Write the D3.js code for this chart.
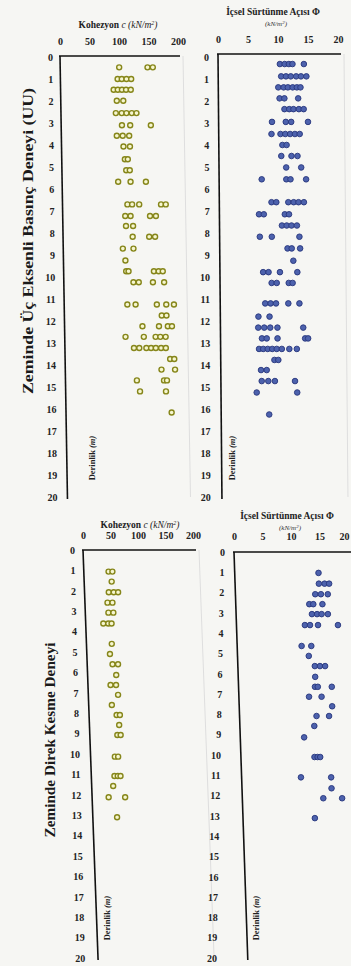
<!DOCTYPE html>
<html>
<head>
<meta charset="utf-8">
<script src="https://cdn.jsdelivr.net/npm/d3@7"></script>
<style>
body { margin: 0; background: #f6f6f3; }
svg { display: block; }
</style>
</head>
<body>
<div id="chart"></div>
<script>
var WIDTH = 351, HEIGHT = 966;
var FONT = "'Liberation Serif', 'Times New Roman', serif";

//tick labels
var cohesionTicks = [0, 50, 100, 150, 200];
var phiTicks = [0, 5, 10, 15, 20];
var depthTicks = [0, 1, 2, 3, 4, 5, 6, 7, 8, 9, 10, 11, 12, 13, 14, 15, 16, 17, 18, 19, 20];

//UU triaxial test - cohesion c (kN/m2), rows of [depth m, values]
var uuCohesion = [
    [0.47, [100, 148, 157]],
    [1.0, [97, 104, 112, 120]],
    [1.49, [90, 97, 104, 111, 119]],
    [1.99, [95, 106]],
    [2.55, [93, 103, 111, 120, 128]],
    [3.1, [103, 117, 152]],
    [3.58, [94, 104, 115]],
    [4.07, [105, 116]],
    [4.65, [107, 112]],
    [5.15, [109, 115]],
    [5.67, [95, 116, 142]],
    [6.7, [110, 118, 130, 167, 175]],
    [7.23, [106, 115, 148, 158]],
    [7.68, [107, 119]],
    [8.17, [118, 146, 156]],
    [8.71, [101, 119]],
    [9.25, [105]],
    [9.74, [106, 110, 153, 161, 168]],
    [10.24, [118, 127, 151, 170]],
    [11.25, [107, 121, 157, 173, 186]],
    [11.75, [165, 173]],
    [12.24, [132, 160, 175, 182]],
    [12.72, [103, 134, 154, 162, 171]],
    [13.23, [117, 126, 138, 146, 154, 163, 171]],
    [13.73, [178, 185]],
    [14.21, [163, 186]],
    [14.7, [121, 167, 172]],
    [15.2, [126, 170]],
    [16.16, [179]]
];

//UU triaxial test - internal friction angle
var uuPhi = [
    [0.32, [10.3, 11.1, 11.8, 12.4, 14.3]],
    [0.88, [10.5, 11.3, 12.1, 13.0, 13.8, 14.7]],
    [1.38, [10.0, 10.9, 11.6, 12.4, 13.1, 13.7]],
    [1.88, [10.2, 11.0, 13.3]],
    [2.37, [11.0, 11.8, 12.5, 13.4, 14.2]],
    [2.95, [8.9, 11.2, 12.1, 14.9]],
    [3.5, [8.8, 10.3, 11.1, 11.9, 12.7, 13.5]],
    [4.0, [10.6, 11.3]],
    [4.5, [10.4, 12.1, 13.1]],
    [5.02, [11.2, 13.7]],
    [5.56, [7.1, 11.2, 11.9, 14.5]],
    [6.6, [8.7, 9.5, 11.5, 12.4, 13.2, 14.1]],
    [7.15, [6.6, 7.4, 10.9, 11.6]],
    [7.66, [10.4, 11.2, 12.0, 12.9]],
    [8.17, [6.7, 8.7, 13.3]],
    [8.7, [11.3, 12.0, 13.4]],
    [9.26, [12.25]],
    [9.78, [7.2, 8.1, 10.0, 12.9]],
    [10.27, [8.6, 9.45, 11.45, 12.1]],
    [11.2, [7.5, 8.4, 9.3, 11.35, 13.2]],
    [11.8, [6.35, 8.2]],
    [12.3, [6.3, 7.3, 8.3, 9.5, 13.8]],
    [12.79, [6.9, 7.7, 9.5, 14.1, 14.6]],
    [13.27, [6.4, 7.1, 7.85, 8.6, 9.35, 10.2, 11.45, 12.7]],
    [13.77, [8.95, 9.6]],
    [14.23, [6.7, 7.65]],
    [14.73, [6.8, 7.9, 9.0, 12.35]],
    [15.25, [5.95, 12.7]],
    [16.25, [8.0]]
];

//direct shear test - cohesion
var dsCohesion = [
    [1.06, [45, 52]],
    [1.55, [50]],
    [2.07, [44, 53, 61]],
    [2.58, [41, 50]],
    [3.07, [42, 51]],
    [3.6, [32, 41, 47]],
    [4.6, [46]],
    [5.1, [42]],
    [5.6, [46, 56]],
    [6.13, [52]],
    [6.62, [41, 51]],
    [7.1, [54]],
    [7.6, [42]],
    [8.09, [50, 56]],
    [8.58, [54]],
    [9.07, [50, 56]],
    [10.13, [44, 50]],
    [11.08, [42, 48, 53]],
    [11.57, [39]],
    [12.12, [30, 60]],
    [13.1, [44]]
];

//direct shear test - internal friction angle
var dsPhi = [
    [1.03, [14.7]],
    [1.56, [14.7, 15.7, 16.5]],
    [2.08, [14.0, 15.0, 16.2]],
    [2.57, [12.9, 13.6, 15.2]],
    [3.06, [13.3, 14.2, 15.0, 16.1]],
    [3.6, [12.0, 12.9, 14.3, 17.8]],
    [4.63, [11.3, 13.0]],
    [5.12, [12.5]],
    [5.62, [13.5, 14.4, 15.3]],
    [6.15, [13.5]],
    [6.64, [13.4, 13.9, 16.35]],
    [7.13, [12.3, 14.5]],
    [7.6, [16.3]],
    [8.08, [13.5, 15.7]],
    [8.57, [13.05]],
    [9.13, [11.2]],
    [10.1, [12.9, 13.45, 13.9]],
    [11.1, [10.4, 15.7]],
    [11.64, [15.7]],
    [12.13, [14.2, 17.5]],
    [13.11, [12.6]]
];

var svg = d3.select('#chart')
    .append('svg')
    .attr('width', WIDTH)
    .attr('height', HEIGHT)
    .style('background', '#f6f6f3');

//dot looks
var YELLOW_DOT = {r: 2.5, fill: '#f6f6cf', stroke: '#86861a', width: 1.4};
var BLUE_DOT = {r: 2.8, fill: '#4d62ad', stroke: '#27357c', width: 0.9};

/**
 * draws one depth panel; k is the slant of the scanned page
 */
function drawPanel(p, rows, ticks, dot) {
    var x = d3.scaleLinear().domain([ticks[0], ticks[ticks.length - 1]]).range([p.x0, p.x1]);
    var y = d3.scaleLinear().domain([0, 20]).range([p.y0, p.y1]);
    var g = svg.append('g');

    function slant(depth) {
        return p.k * (y(depth) - p.y0);
    }

    //faint page line on the right
    g.append('line')
        .attr('x1', p.lineRight + 3).attr('y1', p.lineY)
        .attr('x2', p.lineRight + 3 + slant(20)).attr('y2', p.y1)
        .attr('stroke', '#dedede')
        .attr('stroke-width', 1);

    //top line and depth line
    g.append('line')
        .attr('x1', p.x0 - 1).attr('y1', p.lineY)
        .attr('x2', p.lineRight).attr('y2', p.lineY)
        .attr('stroke', '#111')
        .attr('stroke-width', 1.6);
    g.append('line')
        .attr('x1', p.x0).attr('y1', p.lineY)
        .attr('x2', p.x0 + slant(20)).attr('y2', p.y1 + 2)
        .attr('stroke', '#111')
        .attr('stroke-width', 1.6);

    //value ticks
    var xAxis = g.append('g')
        .attr('transform', 'translate(0,' + p.tickY + ')')
        .call(d3.axisTop(x).tickValues(ticks).tickSize(0).tickPadding(0));
    xAxis.select('.domain').remove();
    xAxis.selectAll('text')
        .attr('fill', '#222')
        .style('font-family', FONT)
        .style('font-weight', 'bold')
        .style('font-size', '10px');
    //keep the last label inside the page
    if (p.lastShift) {
        xAxis.selectAll('.tick:last-of-type text').attr('x', -p.lastShift);
    }

    //depth ticks
    var yAxis = g.append('g')
        .attr('transform', 'translate(' + p.labelX + ',0)')
        .call(d3.axisLeft(y).tickValues(depthTicks).tickSize(0).tickPadding(0));
    yAxis.select('.domain').remove();
    yAxis.selectAll('text')
        .attr('x', function(d) { return p.kl * (y(d) - p.y0); })
        .attr('fill', '#222')
        .style('font-family', FONT)
        .style('font-weight', 'bold')
        .style('font-size', '10px');

    //flatten rows to points
    var points = [];
    rows.forEach(function(row) {
        row[1].forEach(function(v) {
            points.push({depth: row[0], value: v});
        });
    });

    g.append('g')
        .selectAll('circle')
        .data(points)
        .enter()
        .append('circle')
        .attr('cx', function(d) { return x(d.value) + slant(d.depth); })
        .attr('cy', function(d) { return y(d.depth); })
        .attr('r', dot.r)
        .attr('fill', dot.fill)
        .attr('stroke', dot.stroke)
        .attr('stroke-width', dot.width);

    //depth title inside the panel
    var derin = g.append('text')
        .attr('transform', 'translate(' + p.derinX + ',' + p.derinY + ') rotate(-90)')
        .attr('text-anchor', 'middle')
        .attr('fill', '#222')
        .style('font-family', FONT)
        .style('font-size', '8.5px')
        .style('font-weight', 'bold');
    derin.append('tspan').text('Derinlik ');
    derin.append('tspan').style('font-style', 'italic').text(' (m)');

    return g;
}

function cohesionTitle(cx, cy) {
    var t = svg.append('text')
        .attr('x', cx).attr('y', cy)
        .attr('text-anchor', 'middle')
        .attr('fill', '#222')
        .style('font-family', FONT)
        .style('font-size', '9.5px')
        .style('font-weight', 'bold');
    t.append('tspan').text('Kohezyon ');
    t.append('tspan').style('font-style', 'italic').style('font-weight', 'normal').text('c (kN/m');
    t.append('tspan').style('font-style', 'italic').style('font-weight', 'normal')
        .style('font-size', '6px').attr('dy', -3).text('2');
    t.append('tspan').style('font-style', 'italic').style('font-weight', 'normal').attr('dy', 3).text(')');
}

function phiTitle(cx, cy) {
    svg.append('text')
        .attr('x', cx).attr('y', cy)
        .attr('text-anchor', 'middle')
        .attr('fill', '#222')
        .style('font-family', FONT)
        .style('font-size', '9.5px')
        .style('font-weight', 'bold')
        .text('İçsel Sürtünme Açısı Φ');
    var t = svg.append('text')
        .attr('x', cx + 3).attr('y', cy + 11)
        .attr('text-anchor', 'middle')
        .attr('fill', '#333')
        .style('font-family', FONT)
        .style('font-size', '7px')
        .style('font-style', 'italic');
    t.append('tspan').text('(kN/m');
    t.append('tspan').style('font-size', '5px').attr('dy', -2.5).text('2');
    t.append('tspan').attr('dy', 2.5).text(')');
}

function sideTitle(label, cx, cy, len) {
    svg.append('text')
        .attr('transform', 'translate(' + cx + ',' + cy + ') rotate(-90)')
        .attr('text-anchor', 'middle')
        .attr('fill', '#1a1a1a')
        .attr('textLength', len)
        .attr('lengthAdjust', 'spacingAndGlyphs')
        .style('font-family', FONT)
        .style('font-size', '15px')
        .style('font-weight', 'bold')
        .text(label);
}

//top row: UU triaxial
drawPanel({x0: 60, x1: 178, y0: 57, y1: 497, lineY: 56, lineRight: 180, k: 0.017,
           tickY: 45, labelX: 53, kl: 0.010, derinX: 95, derinY: 458},
          uuCohesion, cohesionTicks, YELLOW_DOT);
cohesionTitle(118, 28);

drawPanel({x0: 218, x1: 338, y0: 57, y1: 497, lineY: 54, lineRight: 341, k: 0.009,
           tickY: 43, labelX: 209, kl: 0.004, derinX: 235, derinY: 458},
          uuPhi, phiTicks, BLUE_DOT);
phiTitle(273, 15);

//bottom row: direct shear
drawPanel({x0: 83, x1: 193, y0: 550, y1: 958, lineY: 550, lineRight: 196, k: 0.037,
           tickY: 539, labelX: 75, kl: 0.025, derinX: 110, derinY: 918},
          dsCohesion, cohesionTicks, YELLOW_DOT);
cohesionTitle(140, 528);

drawPanel({x0: 234, x1: 348, y0: 552, y1: 958, lineY: 552, lineRight: 351, k: 0.034,
           tickY: 540, labelX: 225, kl: -0.02, derinX: 259, derinY: 918, lastShift: 4},
          dsPhi, phiTicks, BLUE_DOT);
phiTitle(287, 519);

sideTitle('Zeminde Üç Eksenli Basınç Deneyi (UU)', 33, 241, 306);
sideTitle('Zeminde Direk Kesme Deneyi', 55, 740, 195);
</script>
</body>
</html>
